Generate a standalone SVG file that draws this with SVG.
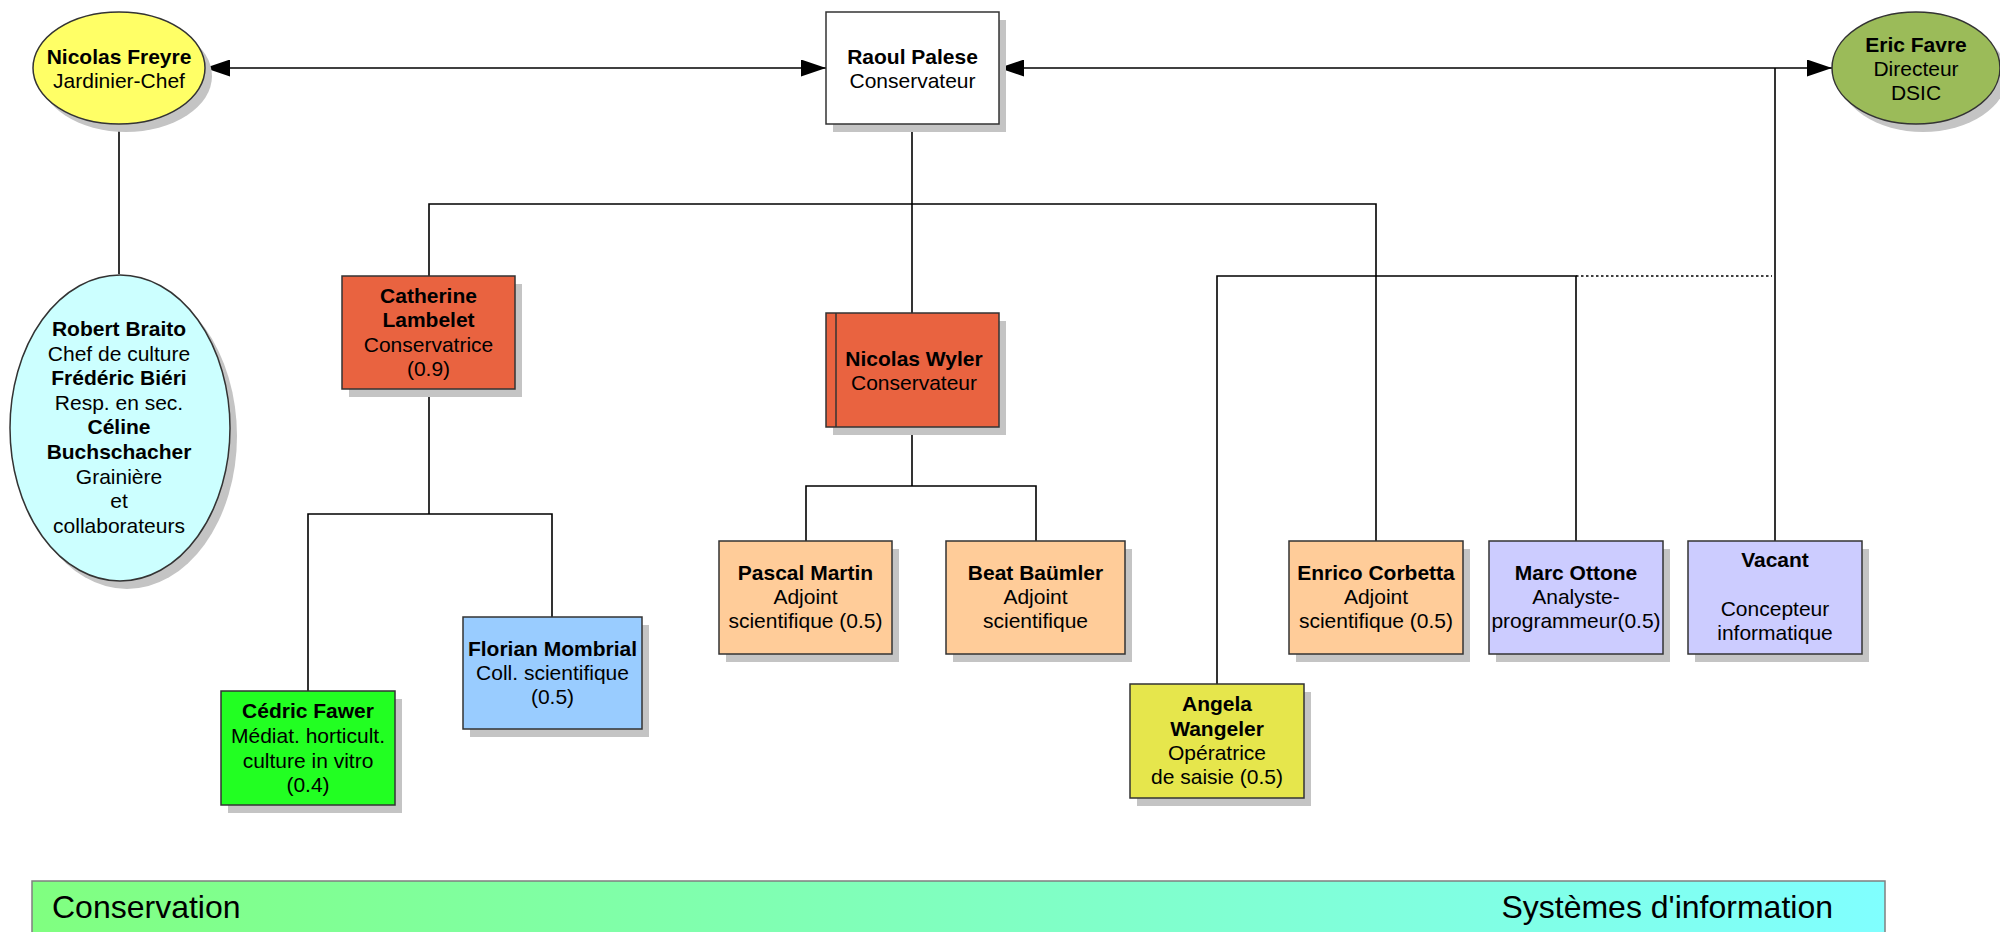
<svg xmlns="http://www.w3.org/2000/svg" width="2000" height="932" viewBox="0 0 2000 932">
<style>
text{font-family:"Liberation Sans",Arial,sans-serif;font-size:21px;fill:#000;text-anchor:middle}
.b{font-weight:bold}
.sh{fill:#c4c4c4}
.nd{stroke:#333;stroke-width:1.5}
.cn{fill:none;stroke:#000;stroke-width:1.6}
.dot{fill:none;stroke:#000;stroke-width:1.6;stroke-dasharray:2.5,2.5}
.bar{font-size:32px;text-anchor:start}
</style>
<defs>
<marker id="ah" viewBox="0 0 25 17" refX="25" refY="8.5" markerWidth="25" markerHeight="17" markerUnits="userSpaceOnUse" orient="auto-start-reverse"><path d="M0,0 L25,8.5 L0,17 z" fill="#000"/></marker>
<linearGradient id="bg" x1="0" y1="0" x2="1" y2="0"><stop offset="0" stop-color="#80ff80"/><stop offset="1" stop-color="#80ffff"/></linearGradient>
</defs>
<rect width="2000" height="932" fill="#fff"/>

<g id="connectors">
<path class="cn" d="M205,68 H826" marker-start="url(#ah)" marker-end="url(#ah)"/>
<path class="cn" d="M999,68 H1832" marker-start="url(#ah)" marker-end="url(#ah)"/>
<path class="cn" d="M119,124 V274"/>
<path class="cn" d="M912,124 V313"/>
<path class="cn" d="M429,276 V204 H1376 V541"/>
<path class="cn" d="M429,389 V514"/>
<path class="cn" d="M308,691 V514 H552 V617"/>
<path class="cn" d="M912,427 V486"/>
<path class="cn" d="M806,541 V486 H1036 V541"/>
<path class="cn" d="M1217,684 V276 H1576 V541"/>
<path class="dot" d="M1576,276 H1772"/>
<path class="cn" d="M1775,68 V541"/>
</g>

<g id="freyre">
<ellipse class="sh" cx="126" cy="76" rx="86" ry="56"/>
<ellipse class="nd" cx="119" cy="68" rx="86" ry="56" fill="#ffff66"/>
<text x="119" y="64" class="b">Nicolas Freyre</text>
<text x="119" y="88">Jardinier-Chef</text>
</g>

<g id="palese">
<rect class="sh" x="833" y="20" width="173" height="112"/>
<rect class="nd" x="826" y="12" width="173" height="112" fill="#fff"/>
<text x="912.5" y="64" class="b">Raoul Palese</text>
<text x="912.5" y="88">Conservateur</text>
</g>

<g id="favre">
<ellipse class="sh" cx="1923" cy="76" rx="84" ry="56"/>
<ellipse class="nd" cx="1916" cy="68" rx="84" ry="56" fill="#9bbb59"/>
<text x="1916" y="52" class="b">Eric Favre</text>
<text x="1916" y="76">Directeur</text>
<text x="1916" y="100">DSIC</text>
</g>

<g id="braito">
<ellipse class="sh" cx="127" cy="436" rx="110" ry="153"/>
<ellipse class="nd" cx="120" cy="428" rx="110" ry="153" fill="#ccffff"/>
<text x="119" y="336" class="b">Robert Braito</text>
<text x="119" y="361">Chef de culture</text>
<text x="119" y="385" class="b">Frédéric Biéri</text>
<text x="119" y="410">Resp. en sec.</text>
<text x="119" y="434" class="b">Céline</text>
<text x="119" y="459" class="b">Buchschacher</text>
<text x="119" y="484">Grainière</text>
<text x="119" y="508">et</text>
<text x="119" y="533">collaborateurs</text>
</g>

<g id="lambelet">
<rect class="sh" x="349" y="284" width="173" height="113"/>
<rect class="nd" x="342" y="276" width="173" height="113" fill="#e96340"/>
<text x="428.5" y="303" class="b">Catherine</text>
<text x="428.5" y="327" class="b">Lambelet</text>
<text x="428.5" y="352">Conservatrice</text>
<text x="428.5" y="376">(0.9)</text>
</g>

<g id="wyler">
<rect class="sh" x="833" y="321" width="173" height="114"/>
<rect class="nd" x="826" y="313" width="173" height="114" fill="#e96340"/>
<path class="nd" d="M836,313 V427" fill="none"/>
<text x="914" y="366" class="b">Nicolas Wyler</text>
<text x="914" y="390">Conservateur</text>
</g>

<g id="fawer">
<rect class="sh" x="228" y="699" width="174" height="114"/>
<rect class="nd" x="221" y="691" width="174" height="114" fill="#22ff22"/>
<text x="308" y="718" class="b">Cédric Fawer</text>
<text x="308" y="743">Médiat. horticult.</text>
<text x="308" y="768">culture in vitro</text>
<text x="308" y="792">(0.4)</text>
</g>

<g id="mombrial">
<rect class="sh" x="470" y="625" width="179" height="112"/>
<rect class="nd" x="463" y="617" width="179" height="112" fill="#99ccff"/>
<text x="552.5" y="656" class="b">Florian Mombrial</text>
<text x="552.5" y="680">Coll. scientifique</text>
<text x="552.5" y="704">(0.5)</text>
</g>

<g id="martin">
<rect class="sh" x="726" y="549" width="173" height="113"/>
<rect class="nd" x="719" y="541" width="173" height="113" fill="#ffcc99"/>
<text x="805.5" y="580" class="b">Pascal Martin</text>
<text x="805.5" y="604">Adjoint</text>
<text x="805.5" y="628">scientifique (0.5)</text>
</g>

<g id="baumler">
<rect class="sh" x="953" y="549" width="179" height="113"/>
<rect class="nd" x="946" y="541" width="179" height="113" fill="#ffcc99"/>
<text x="1035.5" y="580" class="b">Beat Baümler</text>
<text x="1035.5" y="604">Adjoint</text>
<text x="1035.5" y="628">scientifique</text>
</g>

<g id="corbetta">
<rect class="sh" x="1296" y="549" width="174" height="113"/>
<rect class="nd" x="1289" y="541" width="174" height="113" fill="#ffcc99"/>
<text x="1376" y="580" class="b">Enrico Corbetta</text>
<text x="1376" y="604">Adjoint</text>
<text x="1376" y="628">scientifique (0.5)</text>
</g>

<g id="ottone">
<rect class="sh" x="1496" y="549" width="174" height="113"/>
<rect class="nd" x="1489" y="541" width="174" height="113" fill="#ccccff"/>
<text x="1576" y="580" class="b">Marc Ottone</text>
<text x="1576" y="604">Analyste-</text>
<text x="1576" y="628">programmeur(0.5)</text>
</g>

<g id="vacant">
<rect class="sh" x="1695" y="549" width="174" height="113"/>
<rect class="nd" x="1688" y="541" width="174" height="113" fill="#ccccff"/>
<text x="1775" y="567" class="b">Vacant</text>
<text x="1775" y="616">Concepteur</text>
<text x="1775" y="640">informatique</text>
</g>

<g id="wangeler">
<rect class="sh" x="1137" y="692" width="174" height="114"/>
<rect class="nd" x="1130" y="684" width="174" height="114" fill="#e6e64c"/>
<text x="1217" y="711" class="b">Angela</text>
<text x="1217" y="736" class="b">Wangeler</text>
<text x="1217" y="760">Opératrice</text>
<text x="1217" y="784">de saisie (0.5)</text>
</g>

<g id="bar">
<rect x="32" y="881" width="1853" height="52" fill="url(#bg)" stroke="#808080" stroke-width="1.5"/>
<text x="52" y="918" class="bar">Conservation</text>
<text x="1833" y="918" class="bar" style="text-anchor:end">Systèmes d'information</text>
</g>
</svg>
